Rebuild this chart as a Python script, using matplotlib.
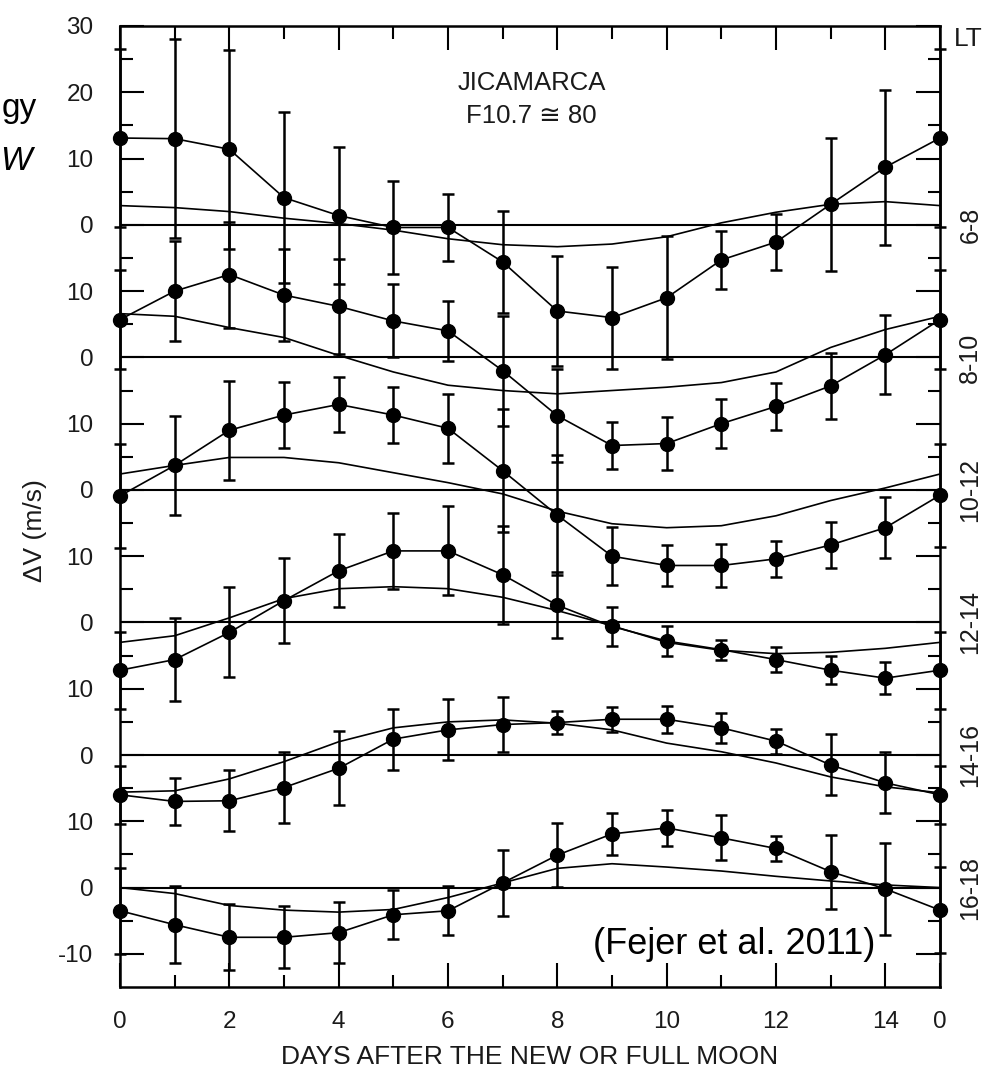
"""Jicamarca lunar tidal drift perturbations, six local time bands stacked."""
import numpy as np
import matplotlib
matplotlib.use("Agg")
import matplotlib.pyplot as plt
from matplotlib.transforms import blended_transform_factory

plt.rcParams['font.family'] = ['Liberation Sans', 'DejaVu Sans']

# ---- data (m/s) -----------------------------------------------------------
days = list(range(16))
day_labels = ['0', '2', '4', '6', '8', '10', '12', '14', '0']
lt_bands = ['6-8', '8-10', '10-12', '12-14', '14-16', '16-18']

obs_6_8 = [13.1, 13.0, 11.4, 4.1, 1.4, -0.4, -0.4, -5.6, -13.0, -14.0, -11.0, -5.3, -2.6, 3.1, 8.7, 13.1]
err_6_8 = [13.5, 15.0, 15.0, 12.9, 10.4, 7.0, 5.0, 7.7, 8.3, 7.7, 9.3, 4.4, 4.2, 10.0, 11.7, 13.5]
mod_6_8 = [2.9, 2.6, 2.0, 1.0, 0.2, -0.8, -2.1, -3.0, -3.3, -2.9, -1.8, 0.3, 1.9, 3.1, 3.5, 2.9]

obs_8_10 = [5.7, 10.0, 12.5, 9.4, 7.7, 5.5, 4.0, -2.0, -8.8, -13.3, -13.0, -10.0, -7.4, -4.3, 0.4, 5.7]
err_8_10 = [7.5, 7.6, 8.0, 7.0, 7.2, 5.5, 4.5, 8.3, 7.0, 3.6, 4.0, 3.7, 3.5, 5.0, 6.0, 7.5]
mod_8_10 = [6.6, 6.2, 4.5, 3.0, 0.3, -2.2, -4.2, -5.0, -5.5, -5.0, -4.5, -3.8, -2.2, 1.5, 4.2, 6.2]

obs_10_12 = [-0.9, 3.7, 9.0, 11.3, 12.9, 11.3, 9.3, 2.9, -3.8, -10.0, -11.4, -11.4, -10.4, -8.3, -5.7, -0.8]
err_10_12 = [7.8, 7.5, 7.5, 5.0, 4.2, 4.2, 5.2, 9.3, 9.0, 4.4, 3.1, 3.3, 2.7, 3.5, 4.6, 7.8]
mod_10_12 = [2.4, 3.7, 4.9, 4.9, 4.1, 2.6, 1.1, -0.6, -3.2, -5.1, -5.7, -5.4, -3.9, -1.6, 0.3, 2.4]

obs_12_14 = [-7.2, -5.6, -1.5, 3.3, 7.8, 10.8, 10.8, 7.2, 2.6, -0.6, -2.8, -4.1, -5.6, -7.2, -8.4, -7.2]
err_12_14 = [5.8, 6.3, 6.8, 6.4, 5.5, 5.7, 6.7, 7.4, 5.0, 2.9, 2.3, 1.5, 1.9, 2.1, 2.4, 5.8]
mod_12_14 = [-3.0, -2.0, 0.7, 3.6, 5.1, 5.4, 5.1, 3.8, 1.8, -0.5, -3.0, -4.2, -4.7, -4.5, -3.9, -3.0]

obs_14_16 = [-6.0, -7.0, -6.9, -4.9, -2.0, 2.4, 3.8, 4.6, 4.9, 5.4, 5.4, 4.1, 2.1, -1.5, -4.2, -6.0]
err_14_16 = [4.4, 3.5, 4.6, 5.3, 5.6, 4.6, 4.6, 4.2, 1.8, 1.9, 2.0, 2.3, 1.9, 4.6, 4.6, 4.4]
mod_14_16 = [-5.6, -5.4, -3.6, -1.0, 2.0, 4.1, 5.0, 5.3, 4.8, 3.8, 1.8, 0.5, -1.2, -3.3, -4.8, -5.7]

obs_16_18 = [-3.5, -5.6, -7.5, -7.5, -6.8, -4.1, -3.5, 0.7, 4.9, 8.1, 9.0, 7.5, 5.9, 2.4, -0.2, -3.4]
err_16_18 = [6.5, 5.8, 5.0, 4.7, 4.6, 3.7, 3.7, 5.0, 4.8, 3.2, 2.7, 3.4, 1.9, 5.6, 7.0, 6.5]
mod_16_18 = [0.0, -0.9, -2.7, -3.4, -3.7, -3.3, -1.5, 0.7, 2.9, 3.6, 3.1, 2.5, 1.7, 1.0, 0.4, 0.0]

observed = [obs_6_8, obs_8_10, obs_10_12, obs_12_14, obs_14_16, obs_16_18]
errors = [err_6_8, err_8_10, err_10_12, err_12_14, err_14_16, err_16_18]
models = [mod_6_8, mod_8_10, mod_10_12, mod_12_14, mod_14_16, mod_16_18]

STEP = 20  # vertical offset between stacked bands
TXT = '#1a1a1a'

# ---- figure ---------------------------------------------------------------
fig = plt.figure(figsize=(9.85, 10.74), dpi=100)
ax = fig.add_axes([120 / 985, 87 / 1074, 820 / 985, 961 / 1074])

for i, (obs, err, mod) in enumerate(zip(observed, errors, models)):
    off = -STEP * i
    ax.axhline(off, color='black', lw=1.5, zorder=1)
    ax.plot(days, np.array(mod) + off, color='black', lw=1.2, zorder=2)
    eb = ax.errorbar(days, np.array(obs) + off, yerr=err, fmt='o-',
                     color='black', ms=10, lw=1.2, elinewidth=1.8,
                     capsize=4, capthick=1.8, zorder=3)
    data_line, caplines, barlines = eb.lines
    for art in [data_line, *caplines, *barlines]:
        art.set_clip_on(False)

ax.set_xlim(0, 15)
ax.set_ylim(-115, 30)

ax.set_xticks([0, 2, 4, 6, 8, 10, 12, 14, 15], day_labels)
ax.set_xticks([1, 3, 5, 7, 9, 11, 13], minor=True)

ymaj = list(range(-110, 31, 10))
ylab = []
for y in ymaj:
    if y > 0:
        ylab.append(str(y))
    elif y == -110:
        ylab.append('-10')
    else:
        ylab.append('0' if y % STEP == 0 else '10')
ax.set_yticks(ymaj, ylab)
ax.set_yticks([y for y in range(-105, 30, 10)], minor=True)

ax.tick_params(which='both', direction='in', top=True, right=True,
               width=1.5, colors='black', labelcolor=TXT, labelsize=17.5)
ax.tick_params(axis='y', pad=19)
ax.tick_params(axis='x', pad=17)
ax.tick_params(which='major', length=17)
ax.tick_params(which='minor', length=9)
for s in ax.spines.values():
    s.set_linewidth(1.8)

ax.set_xlabel('DAYS AFTER THE NEW OR FULL MOON', fontsize=19, color=TXT,
              labelpad=9)
ax.set_ylabel('ΔV (m/s)', fontsize=19, color=TXT, labelpad=8, y=0.475)

ax.text(0.502, 0.941, 'JICAMARCA', transform=ax.transAxes, ha='center',
        va='center', fontsize=18.5, color=TXT)
ax.text(0.502, 0.906, 'F10.7 ≅ 80', transform=ax.transAxes, ha='center',
        va='center', fontsize=18.5, color=TXT)

# local time band labels on the right
trans = blended_transform_factory(ax.transAxes, ax.transData)
ax.text(1.017, 28, 'LT', transform=trans, ha='left', va='center',
        fontsize=19, color=TXT)
for i, band in enumerate(lt_bands):
    ax.text(1.037, -STEP * i, band, transform=trans, ha='center',
            va='center', rotation=90, fontsize=18, color=TXT)

ax.text(0.921, 0.044, '(Fejer et al. 2011)', transform=ax.transAxes,
        ha='right', va='center', fontsize=26, color='black')

# fragments of slide text at the left edge
fig.text(0.002, 1 - 108 / 1074, 'gy', fontsize=24, va='center', ha='left')
fig.text(0.0, 1 - 162 / 1074, 'W', fontsize=24, va='center', ha='left',
         style='italic')

fig.savefig('out.png', dpi=100)
